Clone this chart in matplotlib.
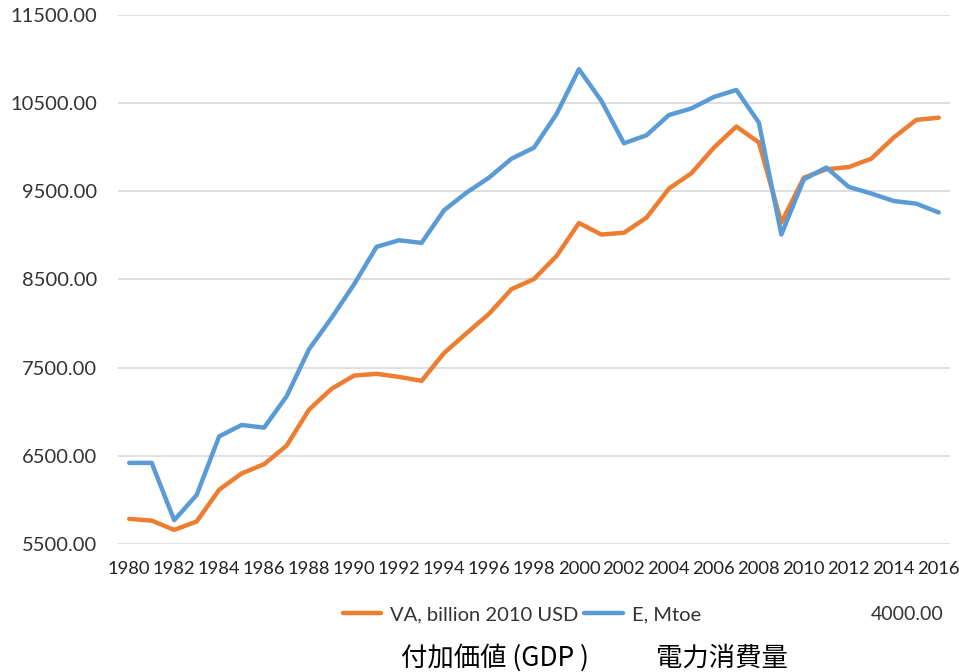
import matplotlib.pyplot as plt

years = list(range(1980, 2017))

# VA, billion 2010 USD
va = [5785, 5765, 5660, 5755, 6115, 6300, 6405, 6615, 7025, 7260,
      7410, 7430, 7395, 7350, 7665, 7890, 8110, 8390, 8505, 8765,
      9140, 9010, 9030, 9200, 9530, 9705, 9995, 10235, 10055, 9145,
      9655, 9750, 9775, 9870, 10110, 10310, 10335]

# E, Mtoe
e = [6420, 6420, 5770, 6055, 6720, 6850, 6820, 7175, 7710, 8065,
     8445, 8870, 8945, 8915, 9285, 9485, 9655, 9870, 9995, 10375,
     10885, 10525, 10045, 10135, 10365, 10440, 10570, 10650, 10280, 9010,
     9635, 9770, 9550, 9475, 9390, 9360, 9260]

yticks = [5500, 6500, 7500, 8500, 9500, 10500, 11500]
xticks = years[::2]

va_label = 'VA, billion 2010 USD'
e_label = 'E, Mtoe'
stray_label = '4000.00'
jp_labels = ['付加価値 (GDP )', '電力消費量']

plt.rcParams['font.family'] = ['Lato', 'DejaVu Sans']

fig = plt.figure(figsize=(9.59, 6.72), dpi=100)
ax = fig.add_axes([0.123, 0.1905, 0.8676, 0.7872])

ax.plot(years, va, color='#ED7D31', lw=3.2, label=va_label, solid_capstyle='round')
ax.plot(years, e, color='#5B9BD5', lw=3.2, label=e_label, solid_capstyle='round')

ax.set_xlim(1979.5, 2016.5)
ax.set_ylim(5500, 11500)
ax.set_yticks(yticks)
ax.set_yticklabels([f'{v:.2f}' for v in yticks])
ax.set_xticks(xticks)
ax.set_xticklabels([str(y) for y in xticks])
ax.grid(axis='y', color='#D9D9D9', lw=1.2)
ax.set_axisbelow(True)
for s in ax.spines.values():
    s.set_visible(False)
ax.tick_params(axis='y', length=0, pad=15, labelsize=14.5, labelcolor='#333333')
ax.tick_params(axis='x', length=0, pad=12, labelsize=13.2, labelcolor='#222222')

fig.legend(loc='center', bbox_to_anchor=(0.544, 0.085), ncol=2, frameon=False,
           fontsize=14.5, handlelength=1.9, handletextpad=0.45, columnspacing=0.3,
           labelcolor='#333333')
fig.text(0.946, 0.085, stray_label, ha='center', va='center', fontsize=14, color='#333333')

fig.text(0.516, 0.021, jp_labels[0], ha='center', va='center', fontsize=19,
         family=['Noto Sans CJK JP', 'DejaVu Sans'])
fig.text(0.753, 0.021, jp_labels[1], ha='center', va='center', fontsize=19,
         family=['Noto Sans CJK JP', 'DejaVu Sans'])

fig.savefig('out.png', dpi=100)
